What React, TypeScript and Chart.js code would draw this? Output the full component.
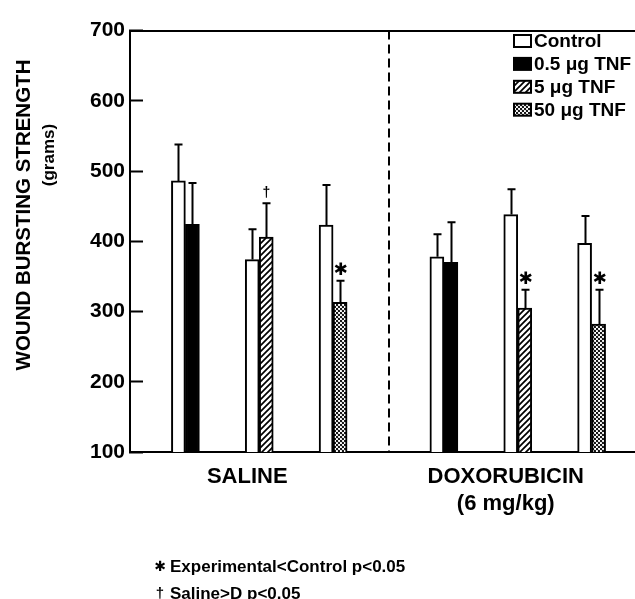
import React, { useEffect, useRef } from 'react';
import { Chart, registerables } from 'chart.js';

Chart.register(...registerables);

// ---------- data ----------
const groupLabels: (string | string[])[] = ['SALINE', ['DOXORUBICIN', '(6 mg/kg)']];
const legendLabels = ['Control', '0.5 μg TNF', '5 μg TNF', '50 μg TNF'];
const pairGroupIndex = [0, 0, 0, 1, 1, 1];
const pairDoseIndex = [1, 2, 3, 1, 2, 3];
const controlMeans = [486, 374, 423, 378, 438, 397];
const controlSD = [52, 43, 57, 32, 36, 39];
const tnfMeans = [424, 406, 313, 370, 305, 282];
const tnfSD = [59, 48, 31, 57, 26, 49];
const tnfMarks = ['', '†', '✱', '', '✱', '✱'];
const yTicks = [100, 200, 300, 400, 500, 600, 700];
const yTitle = 'WOUND BURSTING STRENGTH';
const ySubtitle = '(grams)';
const footnoteSymbols = ['✱', '†'];
const footnoteTexts = ['Experimental<Control p<0.05', 'Saline>D p<0.05'];

// ---------- layout helpers ----------
const SLOTS_PER_GROUP = 7;
const FAMILY = '"Liberation Sans", Arial, Helvetica, sans-serif';
const SYMBOL_FAMILY = '"DejaVu Sans", "Liberation Sans", sans-serif';

const pairSlot = pairGroupIndex.map((g, p) => {
  const within = pairGroupIndex.slice(0, p).filter((x) => x === g).length;
  return g * SLOTS_PER_GROUP + 1 + 2 * within;
});
const slotCount = groupLabels.length * SLOTS_PER_GROUP;
const slotLabels = Array.from({ length: slotCount }, (_, i) => String(i));

function slotArray(values: number[]) {
  const arr: (number | null)[] = new Array(slotCount).fill(null);
  pairSlot.forEach((s, p) => (arr[s] = values[p]));
  return arr;
}

function makeHatch(): CanvasPattern | string {
  const c = document.createElement('canvas');
  c.width = 6;
  c.height = 6;
  const g = c.getContext('2d');
  if (!g) return '#888';
  g.fillStyle = '#fff';
  g.fillRect(0, 0, 6, 6);
  g.strokeStyle = '#000';
  g.lineWidth = 1.7;
  g.beginPath();
  g.moveTo(-1, 7);
  g.lineTo(7, -1);
  g.moveTo(-1, 1);
  g.lineTo(1, -1);
  g.moveTo(5, 7);
  g.lineTo(7, 5);
  g.stroke();
  return g.createPattern(c, 'repeat') || '#888';
}

function makeDots(): CanvasPattern | string {
  const c = document.createElement('canvas');
  c.width = 4;
  c.height = 4;
  const g = c.getContext('2d');
  if (!g) return '#aaa';
  g.fillStyle = '#fff';
  g.fillRect(0, 0, 4, 4);
  g.fillStyle = '#111';
  g.beginPath();
  g.arc(1, 1, 1.2, 0, Math.PI * 2);
  g.arc(3, 3, 1.2, 0, Math.PI * 2);
  g.fill();
  return g.createPattern(c, 'repeat') || '#aaa';
}

export default function App() {
  const ref = useRef<HTMLCanvasElement | null>(null);

  useEffect(() => {
    if (!ref.current) return;
    const fills: (string | CanvasPattern)[] = ['#fff', '#000', makeHatch(), makeDots()];
    const slotDose: number[] = new Array(slotCount).fill(0);
    pairSlot.forEach((s, p) => (slotDose[s] = pairDoseIndex[p]));

    const overlay = {
      id: 'overlay',
      afterDatasetsDraw(chart: any) {
        const ctx: CanvasRenderingContext2D = chart.ctx;
        const ys = chart.scales.y;
        ctx.save();
        ctx.strokeStyle = '#000';
        ctx.fillStyle = '#000';
        ctx.lineWidth = 2;
        const series = [
          { means: controlMeans, sd: controlSD, marks: null as string[] | null },
          { means: tnfMeans, sd: tnfSD, marks: tnfMarks },
        ];
        series.forEach((ser, di) => {
          const meta = chart.getDatasetMeta(di);
          pairSlot.forEach((slot, p) => {
            const el = meta.data[slot];
            if (!el) return;
            const x = Math.round(el.x) + 0.5;
            const yTop = ys.getPixelForValue(ser.means[p]);
            const yErr = ys.getPixelForValue(ser.means[p] + ser.sd[p]);
            ctx.beginPath();
            ctx.moveTo(x, yTop);
            ctx.lineTo(x, yErr);
            ctx.moveTo(x - 4, yErr);
            ctx.lineTo(x + 4, yErr);
            ctx.stroke();
            const mark = ser.marks ? ser.marks[p] : '';
            if (mark) {
              ctx.textAlign = 'center';
              ctx.textBaseline = 'middle';
              ctx.font = mark === '†' ? `bold 14px ${FAMILY}` : `bold 17px ${SYMBOL_FAMILY}`;
              ctx.fillText(mark, x, yErr - 10);
            }
          });
        });
        ctx.restore();
      },
      afterDraw(chart: any) {
        const ctx: CanvasRenderingContext2D = chart.ctx;
        ctx.save();
        // legend
        const lx = 514;
        legendLabels.forEach((lab, i) => {
          const cy = 41 + i * 22.9;
          ctx.fillStyle = fills[i] as any;
          ctx.fillRect(lx, cy - 6, 17, 12);
          ctx.lineWidth = 2;
          ctx.strokeStyle = '#000';
          ctx.strokeRect(lx, cy - 6, 17, 12);
          ctx.fillStyle = '#000';
          ctx.font = `bold 19px ${FAMILY}`;
          ctx.textAlign = 'left';
          ctx.textBaseline = 'middle';
          ctx.fillText(lab, lx + 20, cy + 1);
        });
        // y titles
        ctx.fillStyle = '#000';
        ctx.textAlign = 'center';
        ctx.textBaseline = 'middle';
        ctx.save();
        ctx.translate(24, 215);
        ctx.rotate(-Math.PI / 2);
        ctx.font = `bold 20.5px ${FAMILY}`;
        ctx.fillText(yTitle, 0, 0);
        ctx.restore();
        ctx.save();
        ctx.translate(49, 155);
        ctx.rotate(-Math.PI / 2);
        ctx.font = `bold 17px ${FAMILY}`;
        ctx.fillText(ySubtitle, 0, 0);
        ctx.restore();
        // footnotes
        footnoteTexts.forEach((t, i) => {
          const cy = 567 + i * 27;
          ctx.textAlign = 'center';
          ctx.font = footnoteSymbols[i] === '†' ? `bold 15px ${FAMILY}` : `bold 14px ${SYMBOL_FAMILY}`;
          ctx.fillText(footnoteSymbols[i], 160, cy);
          ctx.textAlign = 'left';
          ctx.font = `bold 17px ${FAMILY}`;
          ctx.fillText(t, 170, cy);
        });
        ctx.restore();
      },
    };

    const chart = new Chart(ref.current, {
      type: 'bar',
      data: {
        labels: slotLabels,
        datasets: [
          {
            label: legendLabels[0],
            data: slotArray(controlMeans),
            xAxisID: 'xs',
            yAxisID: 'y',
            backgroundColor: '#fff',
            borderColor: '#000',
            borderWidth: 2,
            barThickness: 14,
          },
          {
            label: 'TNF',
            data: slotArray(tnfMeans),
            xAxisID: 'xs',
            yAxisID: 'y',
            backgroundColor: (c: any) => fills[slotDose[c.dataIndex]] as any,
            borderColor: '#000',
            borderWidth: 2,
            barThickness: 14,
          },
        ],
      },
      options: {
        responsive: false,
        animation: false,
        devicePixelRatio: 1,
        layout: { padding: { left: 0, right: 3, top: 0, bottom: 0 } },
        plugins: { legend: { display: false }, tooltip: { enabled: false } },
        scales: {
          xs: {
            type: 'category',
            labels: slotLabels,
            offset: true,
            display: false,
            grid: { offset: true },
          },
          x: {
            type: 'category',
            labels: groupLabels as any,
            position: 'bottom',
            offset: true,
            grid: {
              offset: true,
              drawTicks: false,
              lineWidth: 2,
              color: (c: any) => (c.index === 1 ? '#000' : 'rgba(0,0,0,0)'),
            },
            border: { display: true, color: '#000', width: 2, dash: [9, 5] },
            ticks: {
              padding: 12,
              labelOffset: -12,
              color: '#000',
              autoSkip: false,
              maxRotation: 0,
              font: { family: FAMILY, size: 22, weight: 'bold' },
            },
            afterFit: (s: any) => {
              s.height = 147;
            },
          },
          xt: {
            type: 'category',
            labels: groupLabels as any,
            position: 'top',
            offset: true,
            grid: { display: false },
            ticks: { display: false },
            border: { display: true, color: '#000', width: 2 },
            afterFit: (s: any) => {
              s.height = 21;
            },
          },
          y: {
            type: 'linear',
            position: 'left',
            min: 100,
            max: 700,
            afterBuildTicks: (s: any) => {
              s.ticks = yTicks.map((v) => ({ value: v }));
            },
            grid: {
              drawOnChartArea: false,
              drawTicks: true,
              tickLength: -13,
              tickWidth: 2,
              tickColor: '#000',
            },
            border: { display: true, color: '#000', width: 2 },
            ticks: {
              padding: 18,
              color: '#000',
              font: { family: FAMILY, size: 21, weight: 'bold' },
            },
            afterFit: (s: any) => {
              s.width = 130;
            },
          },
        },
      } as any,
      plugins: [overlay],
    });
    return () => chart.destroy();
  }, []);

  return (
    <div
      style={{
        position: 'fixed',
        left: 0,
        top: 0,
        width: 635,
        height: 599,
        overflow: 'hidden',
        background: '#fff',
      }}
    >
      <canvas ref={ref} width={650} height={599} style={{ display: 'block' }} />
    </div>
  );
}
